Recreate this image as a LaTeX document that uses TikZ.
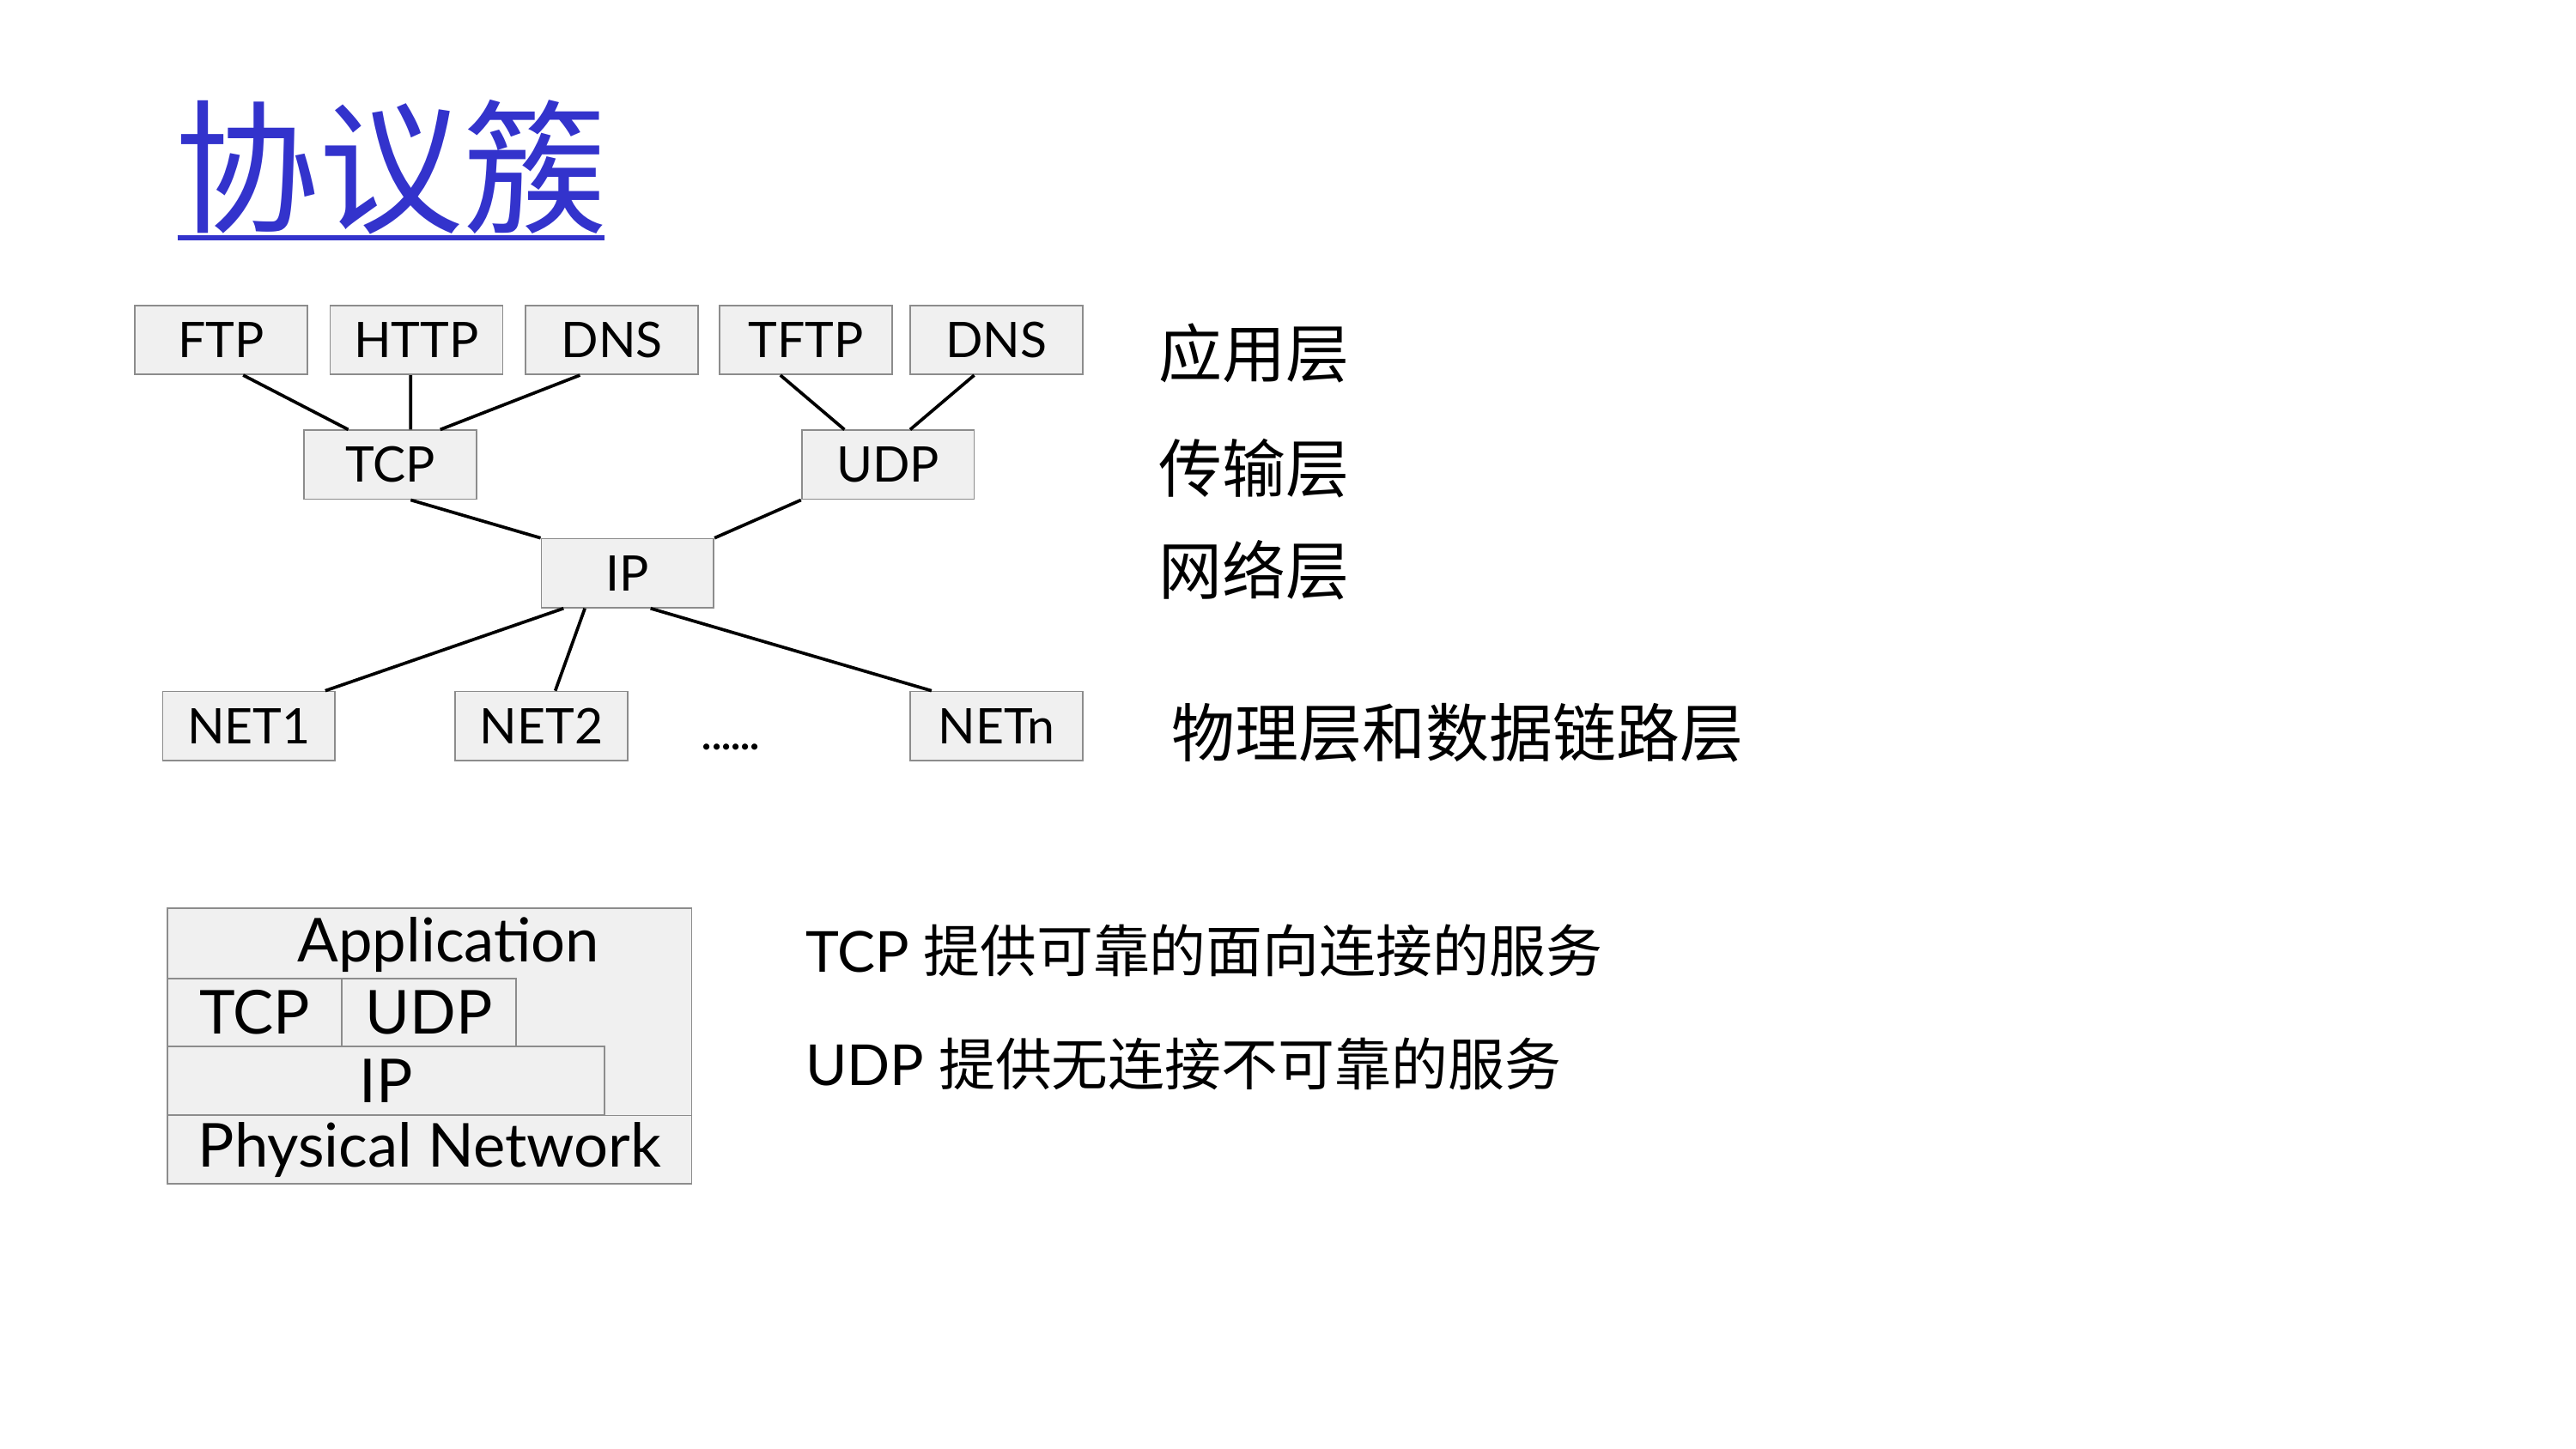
\documentclass[tikz,border=0pt]{standalone}
\usepackage{fontspec}
\usepackage{tikz}
\setmainfont{Lato}
\newfontfamily\cjk{Noto Sans CJK SC}
\usetikzlibrary{positioning}
\usetikzlibrary{calc}
\tikzset{protobox/.style = {draw=gray!90, fill=boxgray, line width=0.5pt,
                            minimum width=2.1cm, minimum height=0.84cm, inner sep=0pt,
                            font=\fontsize{17}{20}\selectfont},
         layerbox/.style = {draw=gray!90, fill=boxgray, line width=0.5pt, inner sep=0pt,
                            minimum height=0.83cm, font=\fontsize{21}{25}\selectfont},
         link/.style = {draw=black, line width=1.1pt},
         layername/.style = {anchor=west, inner sep=0pt, font=\cjk\fontsize{22}{26}\selectfont},
         note/.style = {anchor=west, inner sep=0pt, font=\fontsize{19.6}{24}\selectfont}}
\definecolor{mblue}{rgb}{0.2, 0.2, 0.8}
\definecolor{boxgray}{gray}{0.94}
\begin{document}
\begin{tikzpicture}[x=0.02cm, y=-0.02cm]
      \useasboundingbox (0, 0) rectangle (1568, 882);

      \node [anchor=west, inner sep=0pt, text=mblue, font=\cjk\fontsize{50}{60}\selectfont] (title) at (106, 102) {协议簇};
      \draw [mblue, line width=1.8pt] (108, 145) -- (368, 145);

      \node [protobox] (ftp)  at (134.5, 207) {FTP};
      \node [protobox] (http) at (253.5, 207) {HTTP};
      \node [protobox] (dnsa) at (372.5, 207) {DNS};
      \node [protobox] (tftp) at (490.5, 207) {TFTP};
      \node [protobox] (dnsb) at (606.5, 207) {DNS};
      \node [protobox] (tcp)  at (237.5, 283) {TCP};
      \node [protobox] (udp)  at (540.5, 283) {UDP};
      \node [protobox] (ip)   at (382, 349) {IP};
      \node [protobox] (neta) at (151.5, 442) {NET1};
      \node [protobox] (netb) at (329.5, 442) {NET2};
      \node [protobox] (netn) at (606.5, 442) {NETn};
      \node [inner sep=0pt, font=\bfseries\fontsize{14}{16}\selectfont] (dots) at (445, 455) {......};

      \draw [link] ([xshift=0.27cm]ftp.south)   -- ([xshift=-0.51cm]tcp.north);
      \draw [link] ([xshift=-0.07cm]http.south) -- ([xshift=0.25cm]tcp.north);
      \draw [link] ([xshift=-0.39cm]dnsa.south) -- ([xshift=0.61cm]tcp.north);
      \draw [link] ([xshift=-0.31cm]tftp.south) -- ([xshift=-0.53cm]udp.north);
      \draw [link] ([xshift=-0.27cm]dnsb.south) -- ([xshift=0.27cm]udp.north);
      \draw [link] ([xshift=0.25cm]tcp.south)   -- (ip.north west);
      \draw [link] (udp.south west)             -- (ip.north east);
      \draw [link] ([xshift=-0.78cm]ip.south)   -- ([xshift=0.93cm]neta.north);
      \draw [link] ([xshift=-0.52cm]ip.south)   -- ([xshift=0.17cm]netb.north);
      \draw [link] ([xshift=0.28cm]ip.south)    -- ([xshift=-0.79cm]netn.north);

      \node [layername] (lapp)  at (705, 215) {应用层};
      \node [layername] (ltrn)  at (705, 285) {传输层};
      \node [layername] (lnet)  at (705, 347) {网络层};
      \node [layername] (lphy)  at (713, 446) {物理层和数据链路层};

      \draw [draw=gray!90, fill=boxgray, line width=0.5pt] (102, 553) rectangle (421, 721);
      \node [inner sep=0pt, font=\fontsize{21}{25}\selectfont] (app) at (273, 575) {Application};
      \node [layerbox, minimum width=2.12cm] (stcp) at (155, 616.5) {TCP};
      \node [layerbox, minimum width=2.12cm] (sudp) at (261, 616.5) {UDP};
      \node [layerbox, minimum width=5.32cm] (sip)  at (235, 658) {IP};
      \node [layerbox, minimum width=6.38cm] (sphy) at (261.5, 700) {Physical Network};

      \node [note] (tcpnote) at (490, 579) {TCP {\cjk 提供可靠的面向连接的服务}};
      \node [note] (udpnote) at (490, 648) {UDP {\cjk 提供无连接不可靠的服务}};
    \end{tikzpicture}
\end{document}
